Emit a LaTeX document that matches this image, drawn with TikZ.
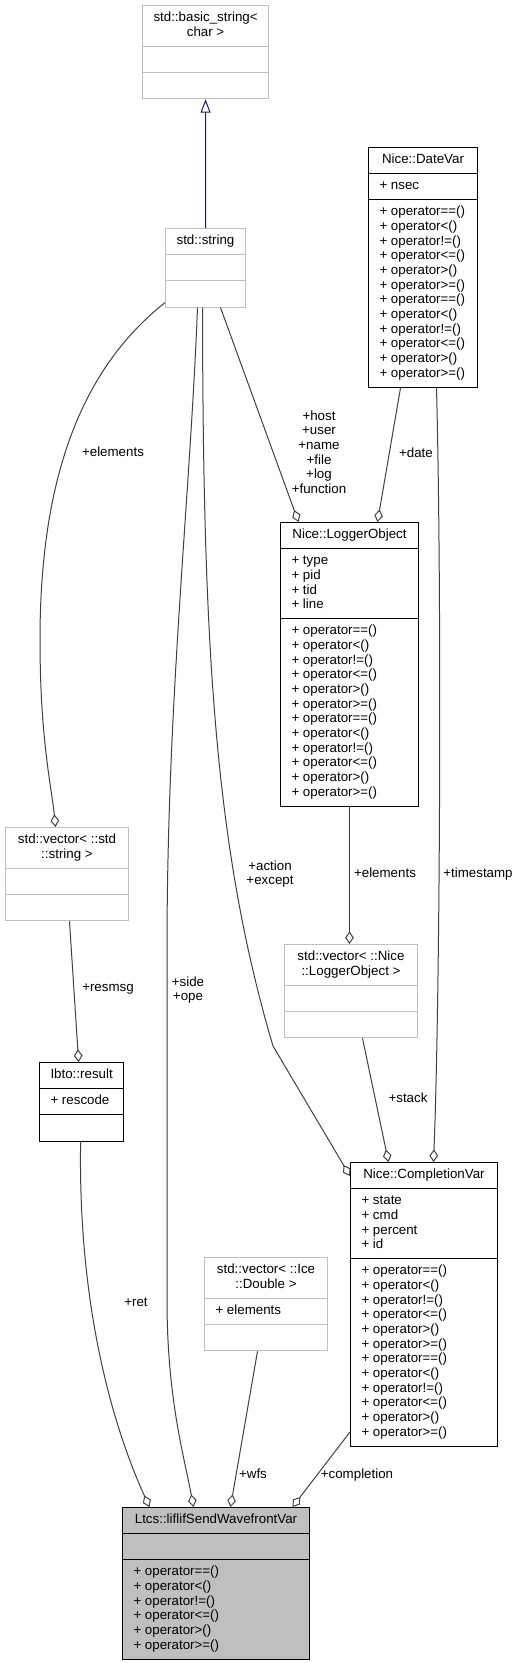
\documentclass[tikz,border=0pt]{standalone}
\usepackage{fontspec}
\setmainfont{Liberation Sans}
\usetikzlibrary{shapes.multipart, arrows.meta, calc}
\definecolor{edgegray}{HTML}{404040}
\definecolor{stdgray}{HTML}{BFBFBF}
\definecolor{inhblue}{HTML}{191970}
\newcommand{\clshead}[1]{\begin{tabular}{@{}c@{}}#1\end{tabular}}
\newcommand{\clsbody}[1]{\begin{tabular}{@{}l@{}}#1\end{tabular}}
\newcommand{\opset}{+ operator==()\\+ operator<()\\+ operator!=()\\+ operator<=()\\+ operator>()\\+ operator>=()}
\begin{document}
\begin{tikzpicture}[x=0.75pt, y=-0.75pt,
  cls/.style={rectangle split, rectangle split parts=3, draw=black, line width=0.75pt, fill=white,
    font=\fontsize{10}{11}\selectfont, inner xsep=8.25pt, inner ysep=3.95pt,
    rectangle split empty part height=7.7pt, rectangle split empty part depth=3.3pt,
    rectangle split part align={center,left,left}, anchor=north west},
  extcls/.style={cls, draw=stdgray},
  clsw/.style={minimum width=0.75pt*#1},
  rel/.style={draw=edgegray, line width=0.75pt, -{Diamond[open, length=9.5pt, width=6.5pt]}},
  inh/.style={draw=inhblue, line width=0.75pt, -{Triangle[open, length=10pt, width=7.5pt]}},
  lbl/.style={font=\fontsize{10}{11}\selectfont, align=center, inner sep=0pt}]
\useasboundingbox (0,0) rectangle (517,1663);
\node[extcls, clsw=126] (bstr) at (142,5) {\clshead{std::basic\_string<\\char >}};
\node[extcls, clsw=80] (strng) at (165,228) {\clshead{std::string}};
\node[cls, clsw=109] (datevar) at (368,147) {\clshead{Nice::DateVar}\nodepart{two}\clsbody{+ nsec}\nodepart{three}\clsbody{\opset\\\opset}};
\node[cls, clsw=138] (logger) at (280,522) {\clshead{Nice::LoggerObject}\nodepart{two}\clsbody{+ type\\+ pid\\+ tid\\+ line}\nodepart{three}\clsbody{\opset\\\opset}};
\node[extcls, clsw=123] (vecstr) at (5,827) {\clshead{std::vector< ::std\\::string >}};
\node[cls, clsw=84] (result) at (39,1062) {\clshead{Ibto::result}\nodepart{two}\clsbody{+ rescode}};
\node[extcls, clsw=133] (veclog) at (284,944) {\clshead{std::vector< ::Nice\\::LoggerObject >}};
\node[cls, clsw=147] (compl) at (350,1162) {\clshead{Nice::CompletionVar}\nodepart{two}\clsbody{+ state\\+ cmd\\+ percent\\+ id}\nodepart{three}\clsbody{\opset\\\opset}};
\node[extcls, clsw=123] (vecdbl) at (204,1257) {\clshead{std::vector< ::Ice\\::Double >}\nodepart{two}\clsbody{+ elements}};
\node[cls, fill=stdgray, clsw=187] (wavefront) at (122,1507) {\clshead{Ltcs::liflifSendWavefrontVar}\nodepart{three}\clsbody{\opset}};
\draw[inh] (strng.north) -- (bstr.south);
\draw[rel] ($(strng.south west)+(0,-5)$) .. controls (80,370) and (40,480) .. (40,640) .. controls (40,740) and (52,790) .. ($(vecstr.north)+(-11.5,0)$);
\node[lbl] (elemstr) at (113,452) {+elements};
\draw[rel] ($(strng.south)+(-8,0)$) .. controls (190,500) and (167,700) .. (167,950) -- (167,1300) .. controls (167,1400) and (185,1460) .. ($(wavefront.north)+(-22.5,0)$);
\node[lbl] (sidelbl) at (188,990) {+side\\+ope};
\draw[rel] ($(strng.south)+(-3,0)$) .. controls (203,650) and (215,850) .. (273,1046) -- ($(compl.north west)+(0,14)$);
\node[lbl] (actlbl) at (270,874) {+action\\+except};
\draw[rel] ($(strng.south)+(15,0)$) -- ($(logger.north)+(-51,0)$);
\node[lbl] (hostlbl) at (319,452) {+host\\+user\\+name\\+file\\+log\\+function};
\draw[rel] ($(datevar.south)+(-22.5,0)$) -- ($(logger.north)+(28,0)$);
\node[lbl] (datelbl) at (416,453) {+date};
\draw[rel] ($(datevar.south)+(13.5,0)$) .. controls (442,600) and (440,1000) .. ($(compl.north)+(9.5,0)$);
\node[lbl] (stamplbl) at (478,874) {+timestamp};
\draw[rel] (logger.south) -- ($(veclog.north)+(-1.5,0)$);
\node[lbl] (elemlog) at (385,873) {+elements};
\draw[rel] ($(veclog.south)+(11.5,0)$) -- ($(compl.north)+(-35.5,0)$);
\node[lbl] (stacklbl) at (408,1098) {+stack};
\draw[rel] ($(vecstr.south)+(2.5,0)$) -- ($(result.north)+(-3,0)$);
\node[lbl] (resmsglbl) at (108,989) {+resmsg};
\draw[rel] ($(result.south)+(-1,0)$) .. controls (78,1300) and (110,1420) .. ($(wavefront.north)+(-66.5,0)$);
\node[lbl] (retlbl) at (136,1302) {+ret};
\draw[rel] ($(vecdbl.south)+(-8.5,0)$) -- ($(wavefront.north)+(14.5,0)$);
\node[lbl] (wfslbl) at (253,1474) {+wfs};
\draw[rel] ($(compl.south west)+(0,-15)$) -- ($(wavefront.north)+(76.5,0)$);
\node[lbl] (compllbl) at (357,1475) {+completion};
\end{tikzpicture}
\end{document}
